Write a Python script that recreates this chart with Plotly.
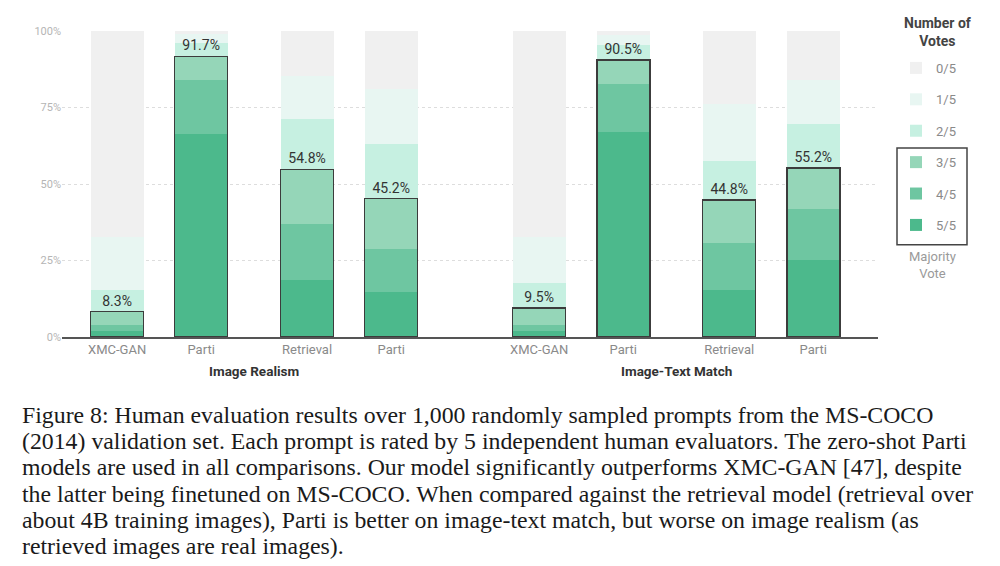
import plotly.graph_objects as go

# categories along the x axis (two groups of four bars)
models = ["XMC-GAN", "Parti", "Retrieval", "Parti"]
groups = ["Image Realism", "Image-Text Match"]

# share of prompts (%) per number of votes, one list per vote level, 8 bars
votes_5 = [1.8, 66.5, 18.5, 14.6, 1.8, 67.1, 15.4, 25.2]
votes_4 = [2.0, 17.4, 18.5, 14.1, 2.2, 15.7, 15.3, 16.5]
votes_3 = [4.5, 7.8, 17.8, 16.5, 5.5, 7.7, 14.1, 13.5]
votes_2 = [7.1, 4.4, 16.3, 17.8, 8.3, 4.8, 12.8, 14.4]
votes_1 = [17.4, 3.0, 14.1, 18.2, 15.0, 3.3, 18.4, 14.3]
votes_0 = [67.2, 0.9, 14.8, 18.8, 67.2, 1.4, 24.0, 16.1]

majority_labels = ["8.3%", "91.7%", "54.8%", "45.2%", "9.5%", "90.5%", "44.8%", "55.2%"]

y_ticks = [0, 25, 50, 75, 100]
y_ticklabels = ["0%", "25%", "50%", "75%", "100%"]

caption = [
    "Figure 8: Human evaluation results over 1,000 randomly sampled prompts from the MS-COCO",
    "(2014) validation set. Each prompt is rated by 5 independent human evaluators. The zero-shot Parti",
    "models are used in all comparisons. Our model significantly outperforms XMC-GAN [47], despite",
    "the latter being finetuned on MS-COCO. When compared against the retrieval model (retrieval over",
    "about 4B training images), Parti is better on image-text match, but worse on image realism (as",
    "retrieved images are real images).",
]

# layout of the bars: uneven spacing inside a group, wider gap between groups
within = [0, 1, 2.26, 3.26]
group_offset = 5.02
xpos = [g * group_offset + w for g in range(len(groups)) for w in within]
ticktext = models * len(groups)

levels = [
    ("5/5", votes_5, "#4cb98c"),
    ("4/5", votes_4, "#6ec6a1"),
    ("3/5", votes_3, "#95d6b8"),
    ("2/5", votes_2, "#c6f0e1"),
    ("1/5", votes_1, "#e8f6f2"),
    ("0/5", votes_0, "#f0f0f0"),
]

BAR_W = 0.63
fig = go.Figure()

for i, (name, vals, color) in enumerate(levels):
    fig.add_trace(go.Bar(
        x=xpos, y=vals, name=name, width=BAR_W,
        marker=dict(color=color, line=dict(width=0)),
        legendgroup=name, legendrank=len(levels) - i, hoverinfo="skip",
    ))

majority = [a + b + c for a, b, c in zip(votes_5, votes_4, votes_3)]
fig.add_trace(go.Bar(
    x=xpos, y=majority, xaxis="x2", width=BAR_W, showlegend=False,
    marker=dict(color="rgba(0,0,0,0)", line=dict(color="#3c3c3c", width=1.6)),
    text=majority_labels, textposition="outside",
    textfont=dict(family="Roboto", size=14, color="#333333"),
    cliponaxis=False, hoverinfo="skip",
))

# the page puts the figure 8px in from the top-left corner
OFFSET = 8
W, H = 1000 - OFFSET, 566 - OFFSET
# plot area in screen pixels
PLOT_TOP, PLOT_BOT, PLOT_L, PLOT_R = 31, 337.3, 62, 878


def py(ypix):
    return (PLOT_BOT - ypix) / (PLOT_BOT - PLOT_TOP)


def px(xpix):
    return (xpix - PLOT_L) / (PLOT_R - PLOT_L)


annotations = []
for g, title in enumerate(groups):
    mid = (xpos[g * 4 + 1] + xpos[g * 4 + 2]) / 2
    annotations.append(dict(
        x=mid, xref="x", y=py(371), yref="paper", text="<b>" + title + "</b>",
        xanchor="center", yanchor="middle", showarrow=False,
        font=dict(family="Roboto", size=13.5, color="#333333"),
    ))

annotations.append(dict(
    x=px(938), xref="paper", y=py(32), yref="paper", text="<b>Number of<br>Votes</b>",
    xanchor="center", yanchor="middle", showarrow=False,
    font=dict(family="Roboto", size=14, color="#444444"),
))
annotations.append(dict(
    x=px(932), xref="paper", y=py(265), yref="paper", text="Majority<br>Vote",
    xanchor="center", yanchor="middle", showarrow=False,
    font=dict(family="Roboto", size=13, color="#9a9a9a"),
))

for i, line in enumerate(caption):
    annotations.append(dict(
        x=px(20), xref="paper", y=py(415 + 26.4 * i), yref="paper",
        xanchor="left", yanchor="middle", text=line, showarrow=False,
        font=dict(family="Liberation Serif", size=23.8, color="#1a1a1a"),
    ))

x_range = [-0.655, xpos[-1] + 0.77]

fig.update_layout(
    width=W, height=H,
    margin=dict(l=PLOT_L - OFFSET, r=W - (PLOT_R - OFFSET),
                t=PLOT_TOP - OFFSET, b=H - (PLOT_BOT - OFFSET)),
    barmode="stack",
    plot_bgcolor="white", paper_bgcolor="white",
    font=dict(family="Roboto", color="#888888"),
    xaxis=dict(
        range=x_range, tickvals=xpos, ticktext=ticktext, showgrid=False,
        showline=True, linecolor="#555555", linewidth=1.5, ticks="",
        tickfont=dict(size=13, color="#8a8a8a"), zeroline=False,
    ),
    xaxis2=dict(range=x_range, overlaying="x", visible=False),
    yaxis=dict(
        range=[0, 100], tickvals=y_ticks, ticktext=y_ticklabels,
        showgrid=True, gridcolor="#dddddd", griddash="dot", gridwidth=1,
        zeroline=False, tickfont=dict(size=11, color="#b5b5b5"), ticks="",
    ),
    legend=dict(
        x=px(896), xanchor="left", y=py(53), yanchor="top",
        traceorder="grouped", tracegroupgap=11.5,
        font=dict(size=13, color="#8a8a8a"), itemwidth=30,
        bgcolor="rgba(0,0,0,0)",
    ),
    annotations=annotations,
    shapes=[dict(
        type="rect", xref="paper", yref="paper",
        x0=px(897), x1=px(967), y0=py(245), y1=py(148),
        line=dict(color="#444444", width=1.5),
    )],
)

fig.write_html("out.html")
